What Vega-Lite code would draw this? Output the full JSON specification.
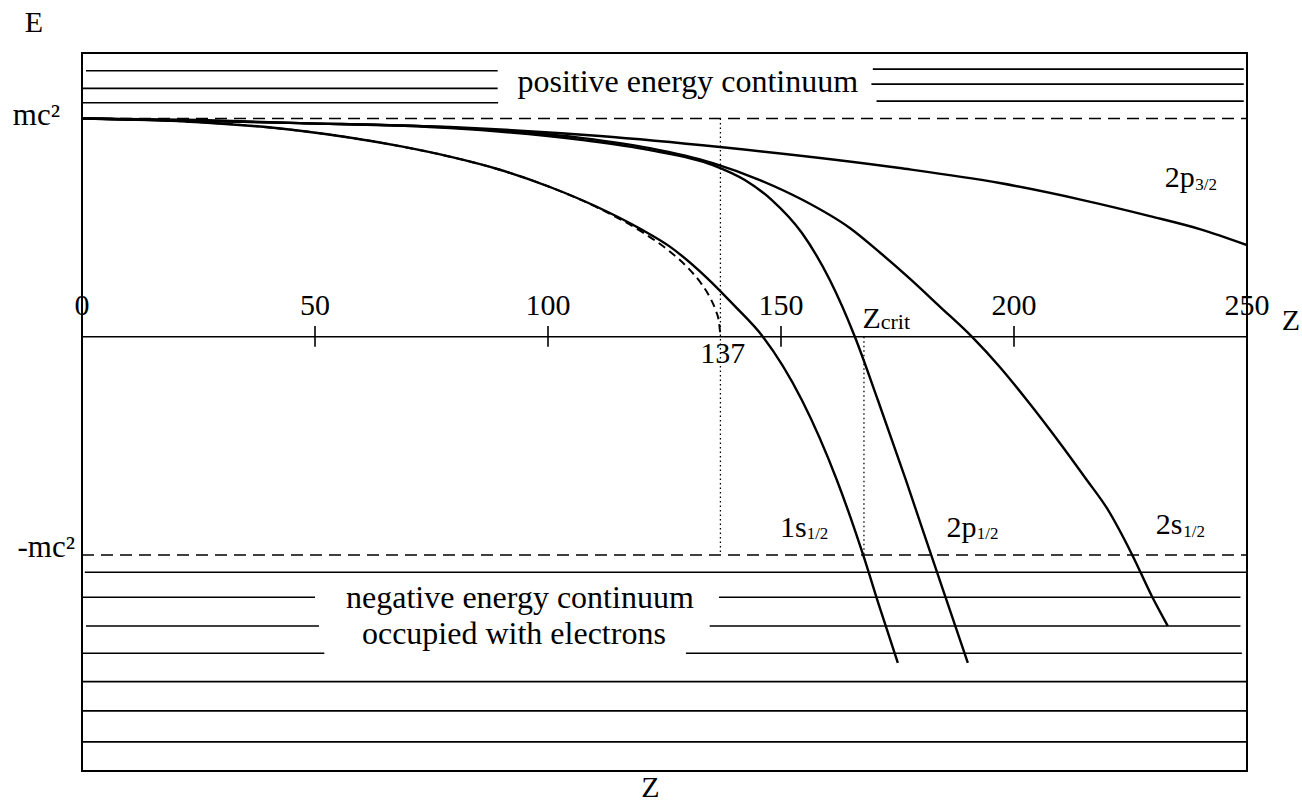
{
  "$schema": "https://vega.github.io/schema/vega-lite/v6.json",
  "width": 1165,
  "height": 718,
  "autosize": {"type": "none"},
  "padding": {"left": 82, "top": 53, "right": 55, "bottom": 34},
  "background": "white",
  "config": {"view": {"stroke": "black", "strokeWidth": 2}, "text": {"font": "Liberation Serif", "color": "black"}},
  "datasets": {
    "cont": [
      {"z1": 0.86, "z2": 89.2, "e": 1.2185},
      {"z1": 0, "z2": 89.2, "e": 1.1379},
      {"z1": 0, "z2": 89.3, "e": 1.0719},
      {"z1": 169.7, "z2": 249.3, "e": 1.2263},
      {"z1": 169.4, "z2": 249.3, "e": 1.1576},
      {"z1": 170.5, "z2": 249.3, "e": 1.0797},
      {"z1": 0.6, "z2": 249.8, "e": -1.0792},
      {"z1": 0, "z2": 50, "e": -1.1938},
      {"z1": 136.7, "z2": 248.6, "e": -1.1938},
      {"z1": 0.86, "z2": 50.85, "e": -1.3253},
      {"z1": 134.7, "z2": 248.6, "e": -1.3253},
      {"z1": 0, "z2": 52, "e": -1.4503},
      {"z1": 129.6, "z2": 248.9, "e": -1.4503},
      {"z1": 0, "z2": 250, "e": -1.5804},
      {"z1": 0, "z2": 250, "e": -1.7146},
      {"z1": 0, "z2": 250, "e": -1.8566},
      {"z1": 0, "z2": 250, "e": 0}
    ],
    "limits": [
      {"z1": 0, "z2": 250, "e": 1},
      {"z1": 0, "z2": 250, "e": -1}
    ],
    "ticks": [
      {"z": 50, "e1": 0.049, "e2": -0.046},
      {"z": 100, "e1": 0.049, "e2": -0.046},
      {"z": 150, "e1": 0.049, "e2": -0.046},
      {"z": 200, "e1": 0.049, "e2": -0.046}
    ],
    "dotted": [
      {"z": 137, "e1": 1, "e2": -1},
      {"z": 167.8, "e1": 0, "e2": -1}
    ],
    "curves": [
      {"state": "2p3/2", "i": 0, "z": 0, "e": 1},
      {"state": "2p3/2", "i": 1, "z": 25.32, "e": 0.9927},
      {"state": "2p3/2", "i": 2, "z": 46.77, "e": 0.9789},
      {"state": "2p3/2", "i": 3, "z": 78.95, "e": 0.9606},
      {"state": "2p3/2", "i": 4, "z": 111.14, "e": 0.9194},
      {"state": "2p3/2", "i": 5, "z": 136.88, "e": 0.869},
      {"state": "2p3/2", "i": 6, "z": 175.5, "e": 0.7728},
      {"state": "2p3/2", "i": 7, "z": 196.95, "e": 0.7041},
      {"state": "2p3/2", "i": 8, "z": 214.76, "e": 0.6262},
      {"state": "2p3/2", "i": 9, "z": 229.14, "e": 0.5529},
      {"state": "2p3/2", "i": 10, "z": 239.86, "e": 0.4934},
      {"state": "2p3/2", "i": 11, "z": 250, "e": 0.4201},
      {"state": "1s1/2", "i": 0, "z": 0, "e": 1},
      {"state": "1s1/2", "i": 1, "z": 25.32, "e": 0.983},
      {"state": "1s1/2", "i": 2, "z": 46.77, "e": 0.944},
      {"state": "1s1/2", "i": 3, "z": 68.23, "e": 0.873},
      {"state": "1s1/2", "i": 4, "z": 78.95, "e": 0.825},
      {"state": "1s1/2", "i": 5, "z": 89.68, "e": 0.765},
      {"state": "1s1/2", "i": 6, "z": 100.41, "e": 0.686},
      {"state": "1s1/2", "i": 7, "z": 110, "e": 0.6},
      {"state": "1s1/2", "i": 8, "z": 120, "e": 0.492},
      {"state": "1s1/2", "i": 9, "z": 126, "e": 0.415},
      {"state": "1s1/2", "i": 10, "z": 134.09, "e": 0.27},
      {"state": "1s1/2", "i": 11, "z": 140.1, "e": 0.14},
      {"state": "1s1/2", "i": 12, "z": 146.11, "e": 0},
      {"state": "1s1/2", "i": 13, "z": 154.47, "e": -0.29},
      {"state": "1s1/2", "i": 14, "z": 161.98, "e": -0.6564},
      {"state": "1s1/2", "i": 15, "z": 167.56, "e": -0.9954},
      {"state": "1s1/2", "i": 16, "z": 171.21, "e": -1.2428},
      {"state": "1s1/2", "i": 17, "z": 175.07, "e": -1.4947},
      {"state": "2p1/2", "i": 0, "z": 0, "e": 1},
      {"state": "2p1/2", "i": 1, "z": 46.77, "e": 0.9789},
      {"state": "2p1/2", "i": 2, "z": 78.95, "e": 0.956},
      {"state": "2p1/2", "i": 3, "z": 107.49, "e": 0.901},
      {"state": "2p1/2", "i": 4, "z": 121.86, "e": 0.8552},
      {"state": "2p1/2", "i": 5, "z": 135.38, "e": 0.7865},
      {"state": "2p1/2", "i": 6, "z": 142.24, "e": 0.7178},
      {"state": "2p1/2", "i": 7, "z": 148.04, "e": 0.6262},
      {"state": "2p1/2", "i": 8, "z": 154.5, "e": 0.475},
      {"state": "2p1/2", "i": 9, "z": 160.48, "e": 0.2597},
      {"state": "2p1/2", "i": 10, "z": 165.85, "e": 0},
      {"state": "2p1/2", "i": 11, "z": 170.78, "e": -0.29},
      {"state": "2p1/2", "i": 12, "z": 176.79, "e": -0.6564},
      {"state": "2p1/2", "i": 13, "z": 182.15, "e": -0.9954},
      {"state": "2p1/2", "i": 14, "z": 186.23, "e": -1.252},
      {"state": "2p1/2", "i": 15, "z": 190.09, "e": -1.4947},
      {"state": "2s1/2", "i": 0, "z": 0, "e": 1},
      {"state": "2s1/2", "i": 1, "z": 46.77, "e": 0.9789},
      {"state": "2s1/2", "i": 2, "z": 78.95, "e": 0.9583},
      {"state": "2s1/2", "i": 3, "z": 107.49, "e": 0.9102},
      {"state": "2s1/2", "i": 4, "z": 121.86, "e": 0.8643},
      {"state": "2s1/2", "i": 5, "z": 135.38, "e": 0.7957},
      {"state": "2s1/2", "i": 6, "z": 145.46, "e": 0.7178},
      {"state": "2s1/2", "i": 7, "z": 154.69, "e": 0.6262},
      {"state": "2s1/2", "i": 8, "z": 164.77, "e": 0.4979},
      {"state": "2s1/2", "i": 9, "z": 171.21, "e": 0.386},
      {"state": "2s1/2", "i": 10, "z": 177.64, "e": 0.266},
      {"state": "2s1/2", "i": 11, "z": 184.08, "e": 0.138},
      {"state": "2s1/2", "i": 12, "z": 190.95, "e": 0},
      {"state": "2s1/2", "i": 13, "z": 196.95, "e": -0.1388},
      {"state": "2s1/2", "i": 14, "z": 202.75, "e": -0.29},
      {"state": "2s1/2", "i": 15, "z": 209.83, "e": -0.4869},
      {"state": "2s1/2", "i": 16, "z": 215.62, "e": -0.6564},
      {"state": "2s1/2", "i": 17, "z": 219.91, "e": -0.7847},
      {"state": "2s1/2", "i": 18, "z": 225.27, "e": -0.9954},
      {"state": "2s1/2", "i": 19, "z": 229.56, "e": -1.188},
      {"state": "2s1/2", "i": 20, "z": 233.0, "e": -1.3253}
    ],
    "sommerfeld": [
      {"i": 0, "z": 0, "e": 1},
      {"i": 1, "z": 25.32, "e": 0.983},
      {"i": 2, "z": 46.77, "e": 0.944},
      {"i": 3, "z": 68.23, "e": 0.873},
      {"i": 4, "z": 78.95, "e": 0.825},
      {"i": 5, "z": 89.68, "e": 0.765},
      {"i": 6, "z": 100.41, "e": 0.686},
      {"i": 7, "z": 110, "e": 0.598},
      {"i": 8, "z": 120, "e": 0.482},
      {"i": 9, "z": 126, "e": 0.393},
      {"i": 10, "z": 130, "e": 0.316},
      {"i": 11, "z": 133, "e": 0.24},
      {"i": 12, "z": 135, "e": 0.17},
      {"i": 13, "z": 136, "e": 0.12},
      {"i": 14, "z": 136.7, "e": 0.066},
      {"i": 15, "z": 137, "e": 0}
    ],
    "bigText": [
      {"t": "positive energy continuum", "z": 130.0, "e": 1.1223},
      {"t": "negative energy continuum", "z": 93.97, "e": -1.2442},
      {"t": "occupied with electrons", "z": 92.68, "e": -1.4077}
    ],
    "centerText": [
      {"t": "0", "z": 0, "e": 0.0994},
      {"t": "50", "z": 50, "e": 0.0994},
      {"t": "100", "z": 100, "e": 0.0994},
      {"t": "150", "z": 150, "e": 0.0994},
      {"t": "200", "z": 200, "e": 0.0994},
      {"t": "250", "z": 250, "e": 0.0994},
      {"t": "137", "z": 137.5, "e": -0.1219},
      {"t": "E", "z": -10.3, "e": 1.3972},
      {"t": "Z", "z": 259.4, "e": 0.0307},
      {"t": "Z", "z": 122, "e": -2.109}
    ],
    "rightText": [
      {"t": "mc²", "z": -4.72, "e": 0.9698},
      {"t": "-mc²", "z": -1.5, "e": -1.0078}
    ],
    "leftText": [
      {"t": "2p", "z": 232.35, "e": 0.6858},
      {"t": "1s", "z": 149.76, "e": -0.9162},
      {"t": "2p", "z": 185.51, "e": -0.9162},
      {"t": "2s", "z": 230.42, "e": -0.9052},
      {"t": "Z", "z": 167.49, "e": 0.0385}
    ],
    "subText": [
      {"t": "3/2", "z": 238.9, "e": 0.672},
      {"t": "1/2", "z": 155.5, "e": -0.9267},
      {"t": "1/2", "z": 192.0, "e": -0.9267},
      {"t": "1/2", "z": 236.3, "e": -0.9175}
    ],
    "critText": [
      {"t": "crit", "z": 171.4, "e": 0.0353}
    ]
  },
  "layer": [
    {
      "data": {"name": "cont"},
      "mark": {"type": "rule", "color": "black", "strokeWidth": 1.6},
      "encoding": {
        "x": {"field": "z1", "type": "quantitative", "scale": {"domain": [0, 250], "nice": false, "zero": false}, "axis": null},
        "x2": {"field": "z2"},
        "y": {"field": "e", "type": "quantitative", "scale": {"domain": [-1.99, 1.3], "nice": false, "zero": false}, "axis": null}
      }
    },
    {
      "data": {"name": "limits"},
      "mark": {"type": "rule", "color": "black", "strokeWidth": 1.5, "strokeDash": [12, 7]},
      "encoding": {
        "x": {"field": "z1", "type": "quantitative"},
        "x2": {"field": "z2"},
        "y": {"field": "e", "type": "quantitative"}
      }
    },
    {
      "data": {"name": "ticks"},
      "mark": {"type": "rule", "color": "black", "strokeWidth": 1.6},
      "encoding": {
        "x": {"field": "z", "type": "quantitative"},
        "y": {"field": "e1", "type": "quantitative"},
        "y2": {"field": "e2"}
      }
    },
    {
      "data": {"name": "dotted"},
      "mark": {"type": "rule", "color": "black", "strokeWidth": 1.3, "strokeDash": [1.5, 3]},
      "encoding": {
        "x": {"field": "z", "type": "quantitative"},
        "y": {"field": "e1", "type": "quantitative"},
        "y2": {"field": "e2"}
      }
    },
    {
      "data": {"name": "curves"},
      "mark": {"type": "line", "color": "black", "strokeWidth": 2.4, "interpolate": "monotone", "clip": true},
      "encoding": {
        "x": {"field": "z", "type": "quantitative"},
        "y": {"field": "e", "type": "quantitative"},
        "detail": {"field": "state", "type": "nominal"},
        "order": {"field": "i", "type": "quantitative"}
      }
    },
    {
      "data": {"name": "sommerfeld"},
      "mark": {"type": "line", "color": "black", "strokeWidth": 2, "strokeDash": [8, 5], "interpolate": "monotone"},
      "encoding": {
        "x": {"field": "z", "type": "quantitative"},
        "y": {"field": "e", "type": "quantitative"},
        "order": {"field": "i", "type": "quantitative"}
      }
    },
    {
      "data": {"name": "bigText"},
      "mark": {"type": "text", "fontSize": 32, "align": "center", "baseline": "alphabetic"},
      "encoding": {
        "x": {"field": "z", "type": "quantitative"},
        "y": {"field": "e", "type": "quantitative"},
        "text": {"field": "t"}
      }
    },
    {
      "data": {"name": "centerText"},
      "mark": {"type": "text", "fontSize": 30, "align": "center", "baseline": "alphabetic"},
      "encoding": {
        "x": {"field": "z", "type": "quantitative"},
        "y": {"field": "e", "type": "quantitative"},
        "text": {"field": "t"}
      }
    },
    {
      "data": {"name": "rightText"},
      "mark": {"type": "text", "fontSize": 31, "align": "right", "baseline": "alphabetic"},
      "encoding": {
        "x": {"field": "z", "type": "quantitative"},
        "y": {"field": "e", "type": "quantitative"},
        "text": {"field": "t"}
      }
    },
    {
      "data": {"name": "leftText"},
      "mark": {"type": "text", "fontSize": 30, "align": "left", "baseline": "alphabetic"},
      "encoding": {
        "x": {"field": "z", "type": "quantitative"},
        "y": {"field": "e", "type": "quantitative"},
        "text": {"field": "t"}
      }
    },
    {
      "data": {"name": "subText"},
      "mark": {"type": "text", "fontSize": 17, "align": "left", "baseline": "alphabetic"},
      "encoding": {
        "x": {"field": "z", "type": "quantitative"},
        "y": {"field": "e", "type": "quantitative"},
        "text": {"field": "t"}
      }
    },
    {
      "data": {"name": "critText"},
      "mark": {"type": "text", "fontSize": 22, "align": "left", "baseline": "alphabetic"},
      "encoding": {
        "x": {"field": "z", "type": "quantitative"},
        "y": {"field": "e", "type": "quantitative"},
        "text": {"field": "t"}
      }
    }
  ]
}
